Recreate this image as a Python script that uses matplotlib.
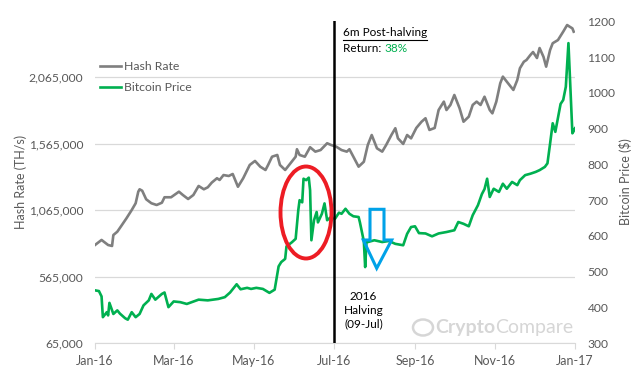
import pandas as pd
import matplotlib
matplotlib.use('Agg')
import matplotlib.pyplot as plt
import matplotlib.dates as mdates
from matplotlib.patches import Ellipse, Polygon
from matplotlib.lines import Line2D
from matplotlib.ticker import FuncFormatter

plt.rcParams['font.family'] = ['Lato', 'DejaVu Sans']

#data (days counted from 1 Jan 2016):
start = pd.Timestamp('2016-01-01')
hash_days = [0, 5, 10, 13, 14, 17, 20, 24, 28, 31, 33, 34, 36, 39, 43, 47, 51, 53, 58, 64,
             67, 71, 75, 79, 83, 86, 89, 93, 95, 98, 102, 105, 109, 113, 118, 122, 126, 130, 132, 135,
             139, 141, 145, 149, 153, 154, 156, 160, 164, 168, 172, 177, 180, 184, 188, 192, 194, 197, 201, 205,
             208, 211, 215, 219, 222, 226, 229, 231, 235, 238, 241, 245, 249, 252, 255, 259, 262, 266, 268, 271,
             274, 278, 281, 285, 288, 291, 294, 297, 301, 303, 306, 309, 311, 314, 316, 319, 322, 324, 327, 329,
             332, 334, 337, 339, 342, 344, 347, 349, 353, 357, 360, 362, 364, 365]
hash_rate = [804000, 842000, 804000, 797000, 879000, 904000, 947000, 1005000, 1067000, 1118000,
             1205000, 1223000, 1212000, 1148000, 1118000, 1105000, 1122000, 1163000, 1163000, 1205000,
             1180000, 1150000, 1180000, 1248000, 1223000, 1238000, 1273000, 1306000, 1293000, 1330000,
             1323000, 1338000, 1242000, 1306000, 1406000, 1436000, 1393000, 1368000, 1406000, 1468000,
             1481000, 1406000, 1368000, 1418000, 1468000, 1524000, 1481000, 1468000, 1539000, 1506000,
             1518000, 1569000, 1556000, 1543000, 1518000, 1506000, 1524000, 1468000, 1393000, 1430000,
             1556000, 1631000, 1531000, 1506000, 1556000, 1631000, 1682000, 1606000, 1564000, 1631000,
             1606000, 1684000, 1731000, 1757000, 1669000, 1684000, 1819000, 1882000, 1819000, 1857000,
             1932000, 1832000, 1731000, 1769000, 1857000, 1882000, 1857000, 1919000, 1819000, 1794000,
             1882000, 2020000, 2070000, 2032000, 2007000, 1970000, 2045000, 2133000, 2182000, 2195000,
             2233000, 2255000, 2210000, 2285000, 2218000, 2145000, 2270000, 2321000, 2345000, 2408000,
             2458000, 2445000, 2433000, 2408000]
price_days = [0, 3, 5, 6, 9, 10, 11, 14, 17, 19, 23, 25, 28, 31, 34, 37, 41, 43, 46, 51,
              53, 56, 60, 65, 70, 79, 86, 94, 99, 103, 108, 111, 116, 119, 123, 128, 133, 137, 140, 142,
              145, 146, 150, 153, 155, 156, 158, 159, 161, 163, 164, 165, 167, 169, 170, 173, 175, 177, 180, 183,
              186, 188, 191, 194, 197, 201, 202, 205, 206, 207, 210, 213, 219, 224, 229, 235, 238, 241, 244, 247,
              252, 257, 262, 268, 274, 277, 281, 285, 288, 292, 295, 297, 299, 301, 304, 308, 311, 314, 318, 322,
              324, 328, 332, 336, 339, 343, 345, 347, 349, 351, 355, 357, 359, 361, 364, 365, 366]
price = [448, 446, 431, 373, 387, 378, 413, 382, 392, 383, 370, 366, 387, 373, 382, 406, 420, 438, 422, 438,
         442, 401, 417, 415, 410, 422, 420, 424, 429, 442, 465, 451, 455, 452, 455, 452, 441, 450, 515, 527,
         536, 571, 582, 592, 672, 700, 694, 760, 756, 763, 728, 588, 644, 667, 638, 662, 691, 644, 653, 648,
         665, 662, 676, 662, 655, 653, 638, 585, 513, 582, 585, 588, 583, 586, 578, 574, 606, 625, 627, 608,
         607, 599, 607, 611, 616, 639, 634, 627, 658, 686, 717, 731, 760, 709, 732, 723, 746, 732, 751, 742,
         756, 770, 774, 779, 784, 793, 803, 858, 915, 891, 969, 980, 1017, 1139, 887, 893, 901]
halving_day = 182

hash_dates = start + pd.to_timedelta(hash_days, unit='D')
price_dates = start + pd.to_timedelta(price_days, unit='D')
halving_date = start + pd.Timedelta(days=halving_day)

GRAY = '#7f7f7f'
GREEN = '#00b050'
LABEL = '#595959'
GRID = '#d9d9d9'

fig = plt.figure(figsize=(6.4, 3.79), dpi=100)
ax = fig.add_axes([95/640, 1-343.3/379, 480/640, 322/379])
ax2 = ax.twinx()

#axes fraction from picture pixels
def px(x, y):
    return ((x-95)/480, (343.3-y)/322)

ax.plot(hash_dates, hash_rate, color=GRAY, linewidth=1.9)
ax2.plot(price_dates, price, color=GREEN, linewidth=1.9)
ax2.axvline(halving_date, color='black', linewidth=1.8)

#axes:
ax.set_xlim(start, pd.Timestamp('2017-01-01'))
ax.set_ylim(65000, 2486000)
ax.set_yticks([65000, 565000, 1065000, 1565000, 2065000])
ax.yaxis.set_major_formatter(FuncFormatter(lambda v, p: '{:,.0f}'.format(v)))
ax2.set_ylim(300, 1200)
ax2.set_yticks(range(300, 1201, 100))
ax.xaxis.set_major_locator(mdates.MonthLocator(bymonth=[1, 3, 5, 7, 9, 11]))
ax.xaxis.set_major_formatter(mdates.DateFormatter('%b-%y'))
ax.grid(axis='y', color=GRID, linewidth=0.9)
ax.set_axisbelow(True)
for s in ['top', 'left', 'right']:
    ax.spines[s].set_visible(False)
ax.spines['bottom'].set_color(GRID)
for s in ax2.spines.values():
    s.set_visible(False)
ax.tick_params(axis='y', length=0, pad=8.5, labelsize=8.7, labelcolor=LABEL)
ax2.tick_params(axis='y', length=0, pad=9, labelsize=8.7, labelcolor=LABEL)
ax.tick_params(axis='x', length=4, color=GRID, pad=4.5, labelsize=9, labelcolor=LABEL)

fig.text(20.5/640, 1-182/379, 'Hash Rate (TH/s)', rotation=90, ha='center', va='center', fontsize=9, color=LABEL)
fig.text(625/640, 1-182/379, 'Bitcoin Price ($)', rotation=90, ha='center', va='center', fontsize=9, color=LABEL)

#legend:
handles = [Line2D([], [], color=GRAY, linewidth=1.9), Line2D([], [], color=GREEN, linewidth=1.9)]
ax2.legend(handles, ['Hash Rate', 'Bitcoin Price'], loc='upper left', bbox_to_anchor=px(100, 61),
           frameon=False, fontsize=8.8, handlelength=1.7, handletextpad=0.25, labelspacing=0.85,
           borderaxespad=0, borderpad=0, labelcolor=LABEL)

#annotations:
t1 = ax2.text(*px(343, 33), '6m Post-halving', transform=ax2.transAxes, fontsize=8.5, va='center', ha='left')
t2 = ax2.text(*px(343, 49), 'Return: ', transform=ax2.transAxes, fontsize=8.5, va='center', ha='left')
ax2.annotate('38%', xy=(1, 0), xycoords=t2, va='bottom', ha='left', fontsize=8.5, color=GREEN)
ax2.text(*px(363.5, 310), '2016\nHalving\n(09-Jul)', transform=ax2.transAxes, fontsize=8.5,
         ha='center', va='center', linespacing=1.3)

ax2.add_patch(Ellipse(px(306, 212.5), 51/480, 92/322, transform=ax2.transAxes,
                      fill=False, edgecolor='#ed1c24', linewidth=2.8, zorder=5))
arrow = [px(370, 209.3), px(384, 209.3), px(384, 240), px(391.7, 240), px(376.7, 268.3),
         px(363.3, 240), px(370, 240)]
ax2.add_patch(Polygon(arrow, closed=True, transform=ax2.transAxes, fill=False,
                      edgecolor='#00a2e8', linewidth=2.2, joinstyle='miter', zorder=5))

#watermark:
ax2.add_patch(Ellipse(px(423, 327.5), 20/480, 16/322, angle=0, transform=ax2.transAxes,
                      fill=False, edgecolor='#d6d6d6', linewidth=1.8))
w1 = ax2.text(*px(435, 327), 'Crypto', transform=ax2.transAxes, fontsize=14, fontweight='bold',
              color='#d6d6d6', va='center', ha='left')
ax2.annotate('Compare', xy=(1, 0), xycoords=w1, va='bottom', ha='left', fontsize=14, color='#d6d6d6')

#underline of the title
fig.canvas.draw()
bb = t1.get_window_extent()
fig.add_artist(Line2D([bb.x0/640, bb.x1/640], [(bb.y0-1)/379, (bb.y0-1)/379], color='black', linewidth=0.8))

fig.savefig('out.png', dpi=100)
